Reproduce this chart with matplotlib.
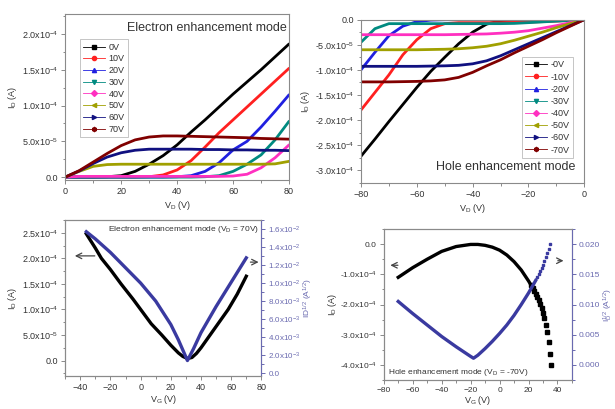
import numpy as np
import matplotlib
matplotlib.use("Agg")
import matplotlib.pyplot as plt
from matplotlib.lines import Line2D
from matplotlib.ticker import FuncFormatter, MultipleLocator

plt.rcParams['font.family'] = ['Liberation Sans', 'DejaVu Sans']
plt.rcParams['mathtext.fontset'] = 'custom'
plt.rcParams['mathtext.rm'] = 'Liberation Sans'
plt.rcParams['mathtext.it'] = 'Liberation Sans:italic'
plt.rcParams['axes.unicode_minus'] = True

# ---- top left: electron enhancement mode output curves (I_D in 1e-5 A)
vd_e = [0, 5, 10, 15, 20, 25, 30, 35, 40, 45, 50, 55, 60, 65, 70, 75, 80]
id_e = {
    '0V':  [0, 0, 0, 0.05, 0.2, 0.8, 1.8, 3.0, 4.5, 6.3, 8.0, 9.8, 11.6, 13.3, 15.0, 16.8, 18.6],
    '10V': [0, 0, 0, 0, 0, 0, 0.05, 0.3, 1.0, 2.3, 4.2, 6.2, 8.0, 9.8, 11.6, 13.4, 15.2],
    '20V': [0, 0, 0, 0, 0, 0, 0, 0, 0.05, 0.2, 0.8, 2.0, 3.8, 5.0, 7.0, 9.2, 11.5],
    '30V': [0, 0, 0, 0, 0, 0, 0, 0, 0, 0, 0.05, 0.2, 0.8, 1.8, 3.1, 5.2, 7.8],
    '40V': [0, 0.1, 0.1, 0.1, 0.1, 0.1, 0.1, 0.1, 0.1, 0.1, 0.1, 0.1, 0.15, 0.4, 1.3, 2.7, 4.5],
    '50V': [0, 0.8, 1.5, 1.75, 1.8, 1.8, 1.8, 1.8, 1.8, 1.8, 1.8, 1.8, 1.8, 1.8, 1.8, 1.85, 2.2],
    '60V': [0, 0.85, 1.9, 2.8, 3.4, 3.75, 3.9, 3.9, 3.9, 3.9, 3.85, 3.85, 3.8, 3.8, 3.75, 3.75, 3.7],
    '70V': [0, 0.9, 2.1, 3.3, 4.4, 5.2, 5.6, 5.75, 5.75, 5.7, 5.65, 5.6, 5.55, 5.5, 5.4, 5.35, 5.3],
}

# ---- top right: hole enhancement mode output curves (I_D in 1e-5 A)
vd_h = [-80, -75, -70, -65, -60, -55, -50, -45, -40, -35, -30, -25, -20, -15, -10, -5, 0]
id_h = {
    '-0V':  [-27.2, -23.8, -20.3, -16.9, -13.5, -10.3, -7.5, -4.8, -2.5, -0.9, -0.2, -0.1, -0.05, -0.03, -0.02, -0.01, 0],
    '-10V': [-18.0, -14.5, -11.0, -7.0, -4.0, -1.8, -0.8, -0.6, -0.6, -0.6, -0.6, -0.55, -0.5, -0.4, -0.3, -0.15, 0],
    '-20V': [-10.0, -6.5, -3.2, -1.3, -0.4, -0.1, -0.02, 0, 0, 0, 0, 0, 0, 0, 0, 0, 0],
    '-30V': [-4.5, -1.8, -0.8, -0.8, -0.8, -0.8, -0.8, -0.8, -0.8, -0.8, -0.8, -0.75, -0.6, -0.45, -0.3, -0.15, 0],
    '-40V': [-3.0, -3.0, -3.0, -3.0, -3.0, -3.0, -3.0, -2.95, -2.9, -2.85, -2.7, -2.5, -2.2, -1.7, -1.2, -0.6, 0],
    '-50V': [-6.0, -6.0, -6.0, -6.0, -6.0, -5.95, -5.9, -5.8, -5.6, -5.3, -4.8, -4.1, -3.3, -2.5, -1.6, -0.8, 0],
    '-60V': [-9.3, -9.3, -9.3, -9.3, -9.3, -9.25, -9.2, -9.1, -8.8, -8.2, -7.2, -6.0, -4.8, -3.6, -2.4, -1.2, 0],
    '-70V': [-12.4, -12.4, -12.4, -12.35, -12.3, -12.2, -12.0, -11.5, -10.5, -9.2, -8.0, -6.6, -5.3, -4.0, -2.6, -1.3, 0],
}

# ---- bottom left: electron transfer curve (V_D = 70V)
vg_e = [-36, -30, -26, -20, -13, -5, 0, 7, 14, 20, 25, 28, 31, 34, 37, 40, 46, 52, 58, 64, 70]
id_ve = [2.48e-4, 2.2e-4, 2.0e-4, 1.78e-4, 1.5e-4, 1.2e-4, 1.0e-4, 0.72e-4, 0.5e-4, 0.3e-4,
         0.15e-4, 0.08e-4, 0.04e-4, 0.06e-4, 0.14e-4, 0.25e-4, 0.5e-4, 0.75e-4, 1.0e-4, 1.3e-4, 1.65e-4]
vg_e_sq = [-36, -30, -20, -10, 0, 10, 20, 25, 31, 35, 40, 50, 60, 70]
sq_ve = [0.0157, 0.0149, 0.0134, 0.0117, 0.0100, 0.0080, 0.0054, 0.0037, 0.0014, 0.0027,
         0.0045, 0.0074, 0.0101, 0.0128]

# ---- bottom right: hole transfer curve (V_D = -70V)
vg_h = [-70, -60, -50, -40, -30, -20, -15, -10, -5, 0, 5, 10, 15, 20, 21]
id_vh = [-1.1e-4, -0.78e-4, -0.5e-4, -0.24e-4, -0.08e-4, -0.01e-4, -0.01e-4, -0.04e-4,
         -0.1e-4, -0.2e-4, -0.36e-4, -0.58e-4, -0.86e-4, -1.22e-4, -1.3e-4]
vg_h_tail = [22, 23, 24, 25, 26, 27, 28, 29, 30, 31, 32, 33, 34, 35, 35.5]
id_vh_tail = [-1.36e-4, -1.45e-4, -1.55e-4, -1.64e-4, -1.74e-4, -1.86e-4, -1.98e-4, -2.12e-4,
              -2.28e-4, -2.46e-4, -2.67e-4, -2.92e-4, -3.25e-4, -3.65e-4, -4.0e-4]
vg_h_sq = [-70, -60, -50, -40, -30, -20, -18, -15, -10, -5, 0, 5, 10, 15, 20, 25]
sq_vh = [0.0105, 0.0085, 0.0066, 0.0047, 0.0030, 0.0014, 0.0011, 0.0016, 0.0027, 0.0039,
         0.0052, 0.0066, 0.0082, 0.0100, 0.0119, 0.0140]
vg_h_sq_tail = [26, 27, 28, 29, 30, 31, 32, 33, 34, 35]
sq_vh_tail = [0.0145, 0.0150, 0.0155, 0.0160, 0.0166, 0.0172, 0.0178, 0.0185, 0.0192, 0.0200]

colors = ['#000000', '#ff2020', '#2020e0', '#008a80', '#ff30c0', '#a0a000', '#101080', '#800000']
markers = ['s', 'o', '^', 'v', 'D', '<', '>', 'h']
txt = '#333333'
spine = '#8a8a8a'
blue = '#3a3aa0'
rblue = '#6a6ab0'


def sci(v, pos):
    if abs(v) < 1e-12:
        return '0.0'
    e = int(np.floor(np.log10(abs(v)) + 1e-9))
    return r'%.1fx10$^{%d}$' % (v / 10.0 ** e, e)


def style(ax, size=6.5):
    for s in ax.spines.values():
        s.set_color(spine)
        s.set_linewidth(0.8)
    ax.tick_params(which='both', direction='out', colors=spine, labelcolor=txt,
                   labelsize=size, width=0.7, right=False, top=False, pad=2)
    ax.tick_params(which='major', length=3)
    ax.tick_params(which='minor', length=1.8)


fig = plt.figure(figsize=(6.15, 4.09), dpi=100)

# top left
ax1 = fig.add_axes([0.106, 0.560, 0.364, 0.406])
for (lab, ys), c in zip(id_e.items(), colors):
    ax1.plot(vd_e, np.array(ys) * 1e-5, color=c, lw=2.0, solid_capstyle='round')
ax1.set_xlim(0, 80)
ax1.set_ylim(-0.4e-5, 2.28e-4)
ax1.xaxis.set_major_locator(MultipleLocator(20))
ax1.xaxis.set_minor_locator(MultipleLocator(10))
ax1.yaxis.set_major_locator(MultipleLocator(5e-5))
ax1.yaxis.set_minor_locator(MultipleLocator(2.5e-5))
ax1.yaxis.set_major_formatter(FuncFormatter(sci))
style(ax1)
ax1.set_xlabel(r'V$_\mathrm{D}$ (V)', fontsize=6.5, color=txt, labelpad=2)
ax1.set_ylabel(r'I$_\mathrm{D}$ (A)', fontsize=6.5, color=txt, labelpad=2)
ax1.text(0.99, 0.915, 'Electron enhancement mode', transform=ax1.transAxes,
         ha='right', va='center', fontsize=9, color=txt)
h1 = [Line2D([], [], color=c, lw=0.6, marker=m, ms=3) for c, m in zip(colors, markers)]
ax1.legend(h1, list(id_e.keys()), loc='upper left', bbox_to_anchor=(0.045, 0.875),
           fontsize=6.5, frameon=True, fancybox=False, edgecolor='#aaaaaa',
           labelspacing=0.3, handlelength=2.4, borderpad=0.4, handletextpad=0.4,
           labelcolor=txt).get_frame().set_linewidth(0.6)

# top right
ax2 = fig.add_axes([0.587, 0.553, 0.363, 0.399])
for (lab, ys), c in zip(id_h.items(), colors):
    ax2.plot(vd_h, np.array(ys) * 1e-5, color=c, lw=2.0, solid_capstyle='round')
ax2.set_xlim(-80, 0)
ax2.set_ylim(-3.25e-4, 0)
ax2.xaxis.set_major_locator(MultipleLocator(20))
ax2.xaxis.set_minor_locator(MultipleLocator(10))
ax2.yaxis.set_major_locator(MultipleLocator(5e-5))
ax2.yaxis.set_minor_locator(MultipleLocator(2.5e-5))
ax2.yaxis.set_major_formatter(FuncFormatter(sci))
style(ax2)
ax2.set_xlabel(r'V$_\mathrm{D}$ (V)', fontsize=6.5, color=txt, labelpad=2)
ax2.set_ylabel(r'I$_\mathrm{D}$ (A)', fontsize=6.5, color=txt, labelpad=2)
ax2.text(0.96, 0.10, 'Hole enhancement mode', transform=ax2.transAxes,
         ha='right', va='center', fontsize=9, color=txt)
h2 = [Line2D([], [], color=c, lw=0.6, marker=m, ms=3) for c, m in zip(colors, markers)]
ax2.legend(h2, list(id_h.keys()), loc='upper left', bbox_to_anchor=(0.70, 0.80),
           fontsize=6.5, frameon=True, fancybox=False, edgecolor='#aaaaaa',
           labelspacing=0.35, handlelength=2.4, borderpad=0.4, handletextpad=0.4,
           labelcolor=txt).get_frame().set_linewidth(0.6)

# bottom left
ax3 = fig.add_axes([0.106, 0.081, 0.319, 0.381])
ax3.plot(vg_e, id_ve, color='black', lw=2.4)
ax3.set_xlim(-50, 80)
ax3.set_ylim(-0.3e-4, 2.75e-4)
ax3.xaxis.set_major_locator(MultipleLocator(20))
ax3.xaxis.set_minor_locator(MultipleLocator(10))
ax3.yaxis.set_major_locator(MultipleLocator(5e-5))
ax3.yaxis.set_minor_locator(MultipleLocator(2.5e-5))
ax3.yaxis.set_major_formatter(FuncFormatter(sci))
style(ax3)
ax3.set_xlabel(r'V$_\mathrm{G}$ (V)', fontsize=6.5, color=txt, labelpad=1)
ax3.set_ylabel(r'I$_\mathrm{D}$ (A)', fontsize=6.5, color=txt, labelpad=2)
ax3r = ax3.twinx()
ax3r.plot(vg_e_sq, sq_ve, color=blue, lw=2.4)
ax3r.set_ylim(-0.0003, 0.017)
ax3r.yaxis.set_major_locator(MultipleLocator(0.002))
ax3r.yaxis.set_minor_locator(MultipleLocator(0.001))
ax3r.yaxis.set_major_formatter(FuncFormatter(sci))
style(ax3r, size=5.8)
ax3r.tick_params(which='both', right=True, colors=rblue, labelcolor=rblue)
ax3r.spines['right'].set_color(rblue)
ax3r.set_ylabel(r'ID$^{1/2}$ (A$^{1/2}$)', fontsize=6, color=rblue, labelpad=1)
ax3.text(0.99, 0.94, r'Electron enhancement mode (V$_\mathrm{D}$ = 70V)', transform=ax3.transAxes,
         ha='right', va='center', fontsize=6, color=txt)
ax3.annotate('', xy=(0.035, 0.77), xytext=(0.165, 0.77), xycoords='axes fraction',
             arrowprops=dict(arrowstyle='->', color='#444444', lw=0.9))
ax3.annotate('', xy=(1.0, 0.73), xytext=(0.93, 0.73), xycoords='axes fraction',
             arrowprops=dict(arrowstyle='->', color='#444444', lw=0.9))

# bottom right
ax4 = fig.add_axes([0.624, 0.071, 0.306, 0.369])
ax4.plot(vg_h, id_vh, color='black', lw=2.4)
ax4.plot(vg_h_tail, id_vh_tail, color='black', ls='none', marker='s', ms=2.2)
ax4.set_xlim(-80, 50)
ax4.set_ylim(-4.5e-4, 0.5e-4)
ax4.xaxis.set_major_locator(MultipleLocator(20))
ax4.xaxis.set_minor_locator(MultipleLocator(10))
ax4.yaxis.set_major_locator(MultipleLocator(1e-4))
ax4.yaxis.set_minor_locator(MultipleLocator(5e-5))
ax4.yaxis.set_major_formatter(FuncFormatter(sci))
style(ax4, size=6)
ax4.set_xlabel(r'V$_\mathrm{G}$ (V)', fontsize=6.5, color=txt, labelpad=0)
ax4.set_ylabel(r'I$_\mathrm{D}$ (A)', fontsize=6.5, color=txt, labelpad=1)
ax4r = ax4.twinx()
ax4r.plot(vg_h_sq, sq_vh, color=blue, lw=2.4)
ax4r.plot(vg_h_sq_tail, sq_vh_tail, color=blue, ls='none', marker='s', ms=2.0)
ax4r.set_ylim(-0.0025, 0.0225)
ax4r.yaxis.set_major_locator(MultipleLocator(0.005))
ax4r.yaxis.set_minor_locator(MultipleLocator(0.0025))
ax4r.yaxis.set_major_formatter(FuncFormatter(lambda v, p: '%.3f' % v))
style(ax4r, size=6)
ax4r.tick_params(which='both', right=True, colors=rblue, labelcolor=rblue)
ax4r.spines['right'].set_color(rblue)
ax4r.set_ylabel(r'I$_\mathrm{D}^{1/2}$ (A$^{1/2}$)', fontsize=6, color=rblue, labelpad=1)
ax4.text(0.02, 0.05, r'Hole enhancement mode (V$_\mathrm{D}$ = -70V)', transform=ax4.transAxes,
         ha='left', va='center', fontsize=6, color=txt)
ax4.annotate('', xy=(0.02, 0.76), xytext=(0.09, 0.76), xycoords='axes fraction',
             arrowprops=dict(arrowstyle='->', color='#444444', lw=0.9))
ax4.annotate('', xy=(0.97, 0.79), xytext=(0.91, 0.79), xycoords='axes fraction',
             arrowprops=dict(arrowstyle='->', color='#444444', lw=0.9))

fig.savefig('out.png', dpi=100)
